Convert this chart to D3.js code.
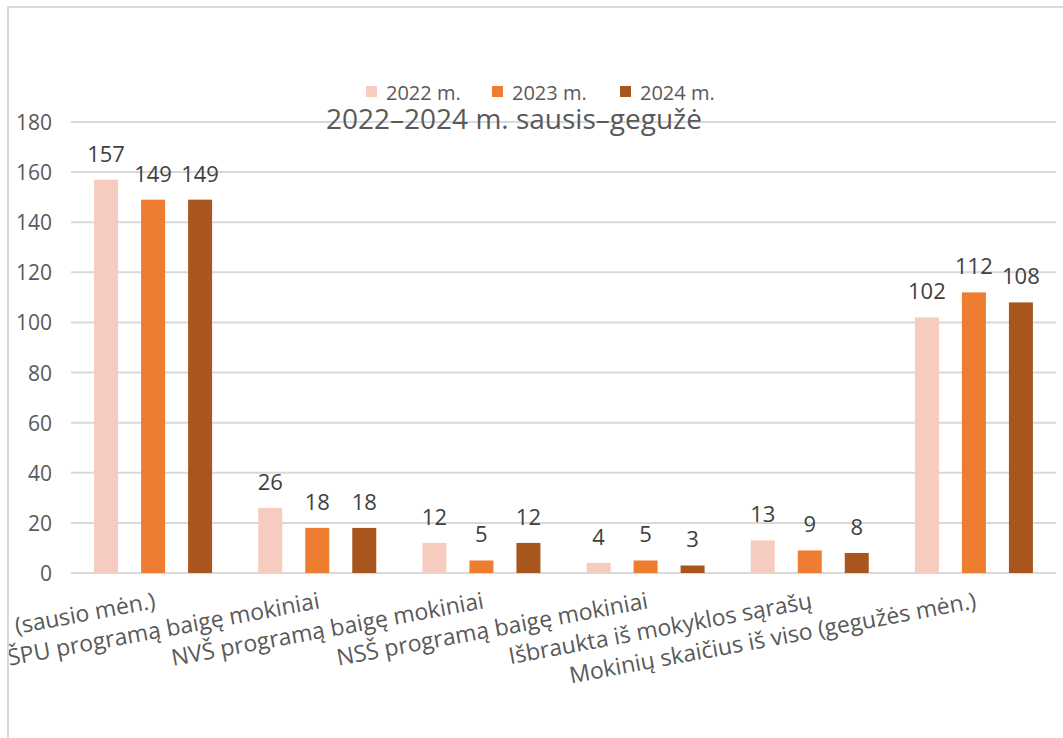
<html>
<head>
<meta charset="utf-8">
<title>Mokinių skaičius 2022–2024</title>
<script src="https://d3js.org/d3.v7.min.js"></script>
<style>
body { margin: 0; background: #fff; }
svg { display: block; font-family: "Open Sans", "Noto Sans", sans-serif; }
.grid line { stroke: #d9d9d9; stroke-width: 2px; }
.tick-label { font-size: 21px; fill: #595959; }
.val { font-size: 22px; fill: #404040; }
.cat { font-size: 23px; fill: #595959; }
.leg { font-size: 20px; fill: #595959; }
.title { font-size: 28px; fill: #595959; }
</style>
</head>
<body>
<svg id="chart" width="1063" height="738"></svg>
<script>
// data
const categories = [
  "Mokinių skaičius iš viso (sausio mėn.)",
  "ŠPU programą baigę mokiniai",
  "NVŠ programą baigę mokiniai",
  "NSŠ programą baigę mokiniai",
  "Išbraukta iš mokyklos sąrašų",
  "Mokinių skaičius iš viso (gegužės mėn.)"
];
const years = ["2022 m.", "2023 m.", "2024 m."];
const v2022 = [157, 26, 12, 4, 13, 102];
const v2023 = [149, 18, 5, 5, 9, 112];
const v2024 = [149, 18, 12, 3, 8, 108];
const yTicks = [0, 20, 40, 60, 80, 100, 120, 140, 160, 180];
const colors = ["#f7ccc0", "#ed7d31", "#a9561e"];
const titleText = "2022–2024 m. sausis–gegužė";

const series = [v2022, v2023, v2024];

const svg = d3.select("#chart");
const W = 1063, H = 738;
const plot = { left: 71, right: 1056, top: 122, bottom: 573 };

// chart frame (only left/top edges fall inside the picture)
svg.append("defs").append("clipPath").attr("id", "frame")
  .append("rect").attr("x", 9).attr("y", 8).attr("width", W).attr("height", H);
svg.append("rect")
  .attr("x", 8).attr("y", 7).attr("width", W + 10).attr("height", H + 10)
  .attr("fill", "none").attr("stroke", "#d9d9d9").attr("stroke-width", 2);

const g = svg.append("g").attr("clip-path", "url(#frame)");

const x0 = d3.scaleBand().domain(categories).range([plot.left, plot.right]).paddingInner(0).paddingOuter(0);
const y = d3.scaleLinear().domain([0, 180]).range([plot.bottom, plot.top]);

const groupW = x0.bandwidth();
const barW = 24, step = 47;

// gridlines
g.append("g").attr("class", "grid")
  .selectAll("line").data(yTicks).enter().append("line")
  .attr("x1", plot.left).attr("x2", plot.right)
  .attr("y1", d => y(d)).attr("y2", d => y(d));

// y axis labels
g.selectAll(".tick-label").data(yTicks).enter().append("text")
  .attr("class", "tick-label")
  .attr("x", 52).attr("y", d => y(d) + 8)
  .attr("text-anchor", "end")
  .text(d => d);

// bars
series.forEach(function(vals, si) {
  const off = (si - 1) * step;
  g.selectAll(".bar" + si).data(vals).enter().append("rect")
    .attr("class", "bar" + si)
    .attr("x", (d, i) => x0(categories[i]) + groupW / 2 + off - barW / 2)
    .attr("y", d => y(d))
    .attr("width", barW)
    .attr("height", d => y(0) - y(d))
    .attr("fill", colors[si]);
  g.selectAll(".val" + si).data(vals).enter().append("text")
    .attr("class", "val")
    .attr("x", (d, i) => x0(categories[i]) + groupW / 2 + off)
    .attr("y", d => y(d) - 18)
    .attr("text-anchor", "middle")
    .text(d => d);
});

// category labels, rotated
g.selectAll(".cat").data(categories).enter().append("text")
  .attr("class", "cat")
  .attr("text-anchor", "end")
  .attr("transform", d => "translate(" + (x0(d) + groupW / 2) + "," + 590 + ") rotate(-10.5)")
  .attr("dy", "0.8em")
  .text(d => d);

// title
g.append("text").attr("class", "title")
  .attr("x", 514).attr("y", 129)
  .attr("text-anchor", "middle")
  .text(titleText);

// legend
const legX = [366, 492, 620];
const leg = g.selectAll(".legitem").data(years).enter().append("g")
  .attr("transform", (d, i) => "translate(" + legX[i] + ",86)");
leg.append("rect").attr("width", 11).attr("height", 11).attr("fill", (d, i) => colors[i]);
leg.append("text").attr("class", "leg").attr("x", 20).attr("y", 14).text(d => d);
</script>
</body>
</html>
